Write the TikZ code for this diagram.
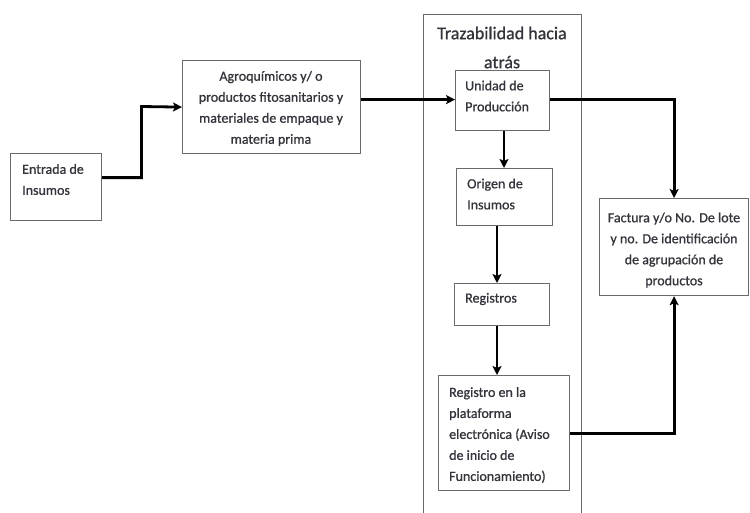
\documentclass[tikz,border=0pt]{standalone}
\usepackage{fontspec}
\setmainfont{Carlito}
\newfontfamily\semib[FakeBold=0.9]{Carlito}
\usetikzlibrary{arrows.meta,calc}
\definecolor{boxgray}{HTML}{6A6A6A}
\definecolor{txtc}{HTML}{34343C}
\tikzset{
  box/.style={draw=boxgray, line width=1.2pt, fill=white, inner sep=0pt, anchor=north west},
  txt/.style={text=txtc, font=\semib\fontsize{14}{21}\selectfont, inner sep=0pt, align=left, anchor=west},
  ctxt/.style={text=txtc, font=\semib\fontsize{14}{21}\selectfont, inner sep=0pt, align=center},
  arr/.style={draw=black, line width=2.8pt, -{Stealth[length=9pt,width=9pt,inset=2pt]}},
}
\begin{document}
\begin{tikzpicture}[x=1pt,y=-1pt]
\useasboundingbox (0,0) rectangle (750,512);
% outer group box
\node[box, minimum width=158pt, minimum height=502pt] (tz) at (423,14) {};
\node[ctxt, font=\semib\fontsize{18}{29}\selectfont] (tzt) at (502,47.5) {Trazabilidad hacia\\atrás};
% boxes
\node[box, minimum width=91pt, minimum height=67pt] (e) at (10,153) {};
\node[txt] (et) at (22,179.5) {Entrada de\\Insumos};
\node[box, minimum width=178pt, minimum height=93pt] (agro) at (182,60) {};
\node[ctxt] (agrot) at (271,108.5) {Agroquímicos y/ o\\productos fitosanitarios y\\materiales de empaque y\\materia prima};
\node[box, minimum width=94pt, minimum height=60pt] (u) at (455,70) {};
\node[txt] (ut) at (465,96) {Unidad de\\Producción};
\node[box, minimum width=96pt, minimum height=57pt] (o) at (456,168) {};
\node[txt] (ot) at (467,194) {Origen de\\Insumos};
\node[box, minimum width=95pt, minimum height=42pt] (r) at (454,283) {};
\node[txt] (rt) at (465,299) {Registros};
\node[box, minimum width=131pt, minimum height=115pt] (p) at (438,375) {};
\node[txt] (pt) at (449,435) {Registro en la\\plataforma\\electrónica (Aviso\\de inicio de\\Funcionamiento)};
\node[box, minimum width=149pt, minimum height=97pt] (f) at (599,198) {};
\node[ctxt] (ft) at (674,250) {Factura y/o No. De lote\\y no. De identificación\\de agrupación de\\productos};
% connectors
\coordinate (k1) at (141.5,106.5);
\coordinate (vx) at (497,0);
\coordinate (vu) at (504,0);
\draw[arr] ([yshift=9.5pt]e.east) -| (k1) -- (agro.west);
\draw[arr] ([yshift=1pt]agro.east |- u.west) -- ([yshift=1pt]u.west);
\draw[arr] ([yshift=1pt]u.east) -| (f.north);
\draw[arr] (u.south -| vu) -- (o.north -| vu);
\draw[arr] (o.south -| vx) -- (r.north -| vx);
\draw[arr] (r.south -| vx) -- (p.north -| vx);
\draw[arr] (p.east) -| (f.south);
\end{tikzpicture}
\end{document}
